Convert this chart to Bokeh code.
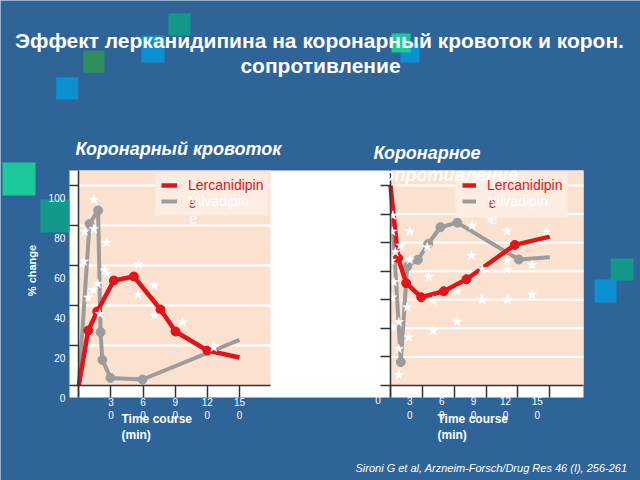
import math
from bokeh.plotting import figure
from bokeh.models import (Range1d, LinearAxis, FixedTicker, BoxAnnotation, Label,
                          Legend, LegendItem)
from bokeh.core.properties import value
from bokeh.embed import file_html
from bokeh.resources import INLINE

# ---------------- data ----------------
TIME_TICKS = [0, 30, 60, 90, 120, 150]
FLOW_TIME_LABELS = ["", "3\n0", "6\n0", "9\n0", "12\n0", "15\n0"]
RES_TIME_LABELS = ["0", "3\n0", "6\n0", "9\n0", "12\n0", "15\n0"]
FLOW_Y_TICKS = [0, 20, 40, 60, 80, 100]
FLOW_Y_LABELS = ["0", "20", "40", "60", "80", "100"]
RES_Y_TICKS = [-70, -60, -50, -40, -30, -20, -10, 0]

# coronary flow (% change)
FLOW_LERC_T = [0, 8.8, 17.2, 32.7, 51.4, 76.3, 90.3, 120, 150]
FLOW_LERC_V = [0, 27.5, 37, 52.5, 54.5, 38, 27, 17.5, 14]
FLOW_NILV_T = [0, 10, 18, 20.3, 22, 29.6, 59.5, 150]
FLOW_NILV_V = [0, 80.8, 87.5, 26.7, 12.8, 3.8, 3, 22.8]
FLOW_STAR_T = [14, 5.6, 14, 25.9, 4.7, 24.3, 25.9, 55.5, 17.7, 13.4, 8.8, 70.4, 55.5, 71, 96.8, 19.6, 126]
FLOW_STAR_V = [92.8, 77, 78.3, 71.3, 62, 57.5, 55.8, 60.5, 50.8, 47.8, 44, 50, 45.3, 35, 31.6, 35.8, 19]

# coronary resistance (% change)
RES_LERC_T = [0, 7.2, 14.8, 28.9, 50.2, 71.6, 117, 150]
RES_LERC_V = [0, -25.4, -34.2, -39.1, -37, -32.8, -20.8, -17.9]
RES_NILV_T = [0, 9.7, 15.7, 25.7, 35.5, 47, 62.8, 120.8, 150]
RES_NILV_V = [0, -61.8, -28.4, -26, -20.4, -14.6, -13, -25.9, -25.1]
RES_STAR_T = [2.2, 1.6, 18.2, 4.7, 9.4, 0.9, 18.2, 34.6, 36.1, 3.1, 76.9, 94.2, 109.9, 146.9, 76.3,
              109.9, 109.9, 133.4, 86.3, 62.8, 40.2, 86.3, 109.9, 133.4, 1.6, 15.7, 7.8, 1.6, 62.8,
              40.2, 17.2, 7.8, 7.8]
RES_STAR_V = [-10.5, -16.1, -16, -23.3, -21, -26.3, -26, -21.6, -31.9, -33.8, -14, -11.3, -16, -16,
              -24.5, -26.3, -29.4, -27.8, -29.2, -37, -40.3, -40, -40, -38.2, -39.1, -42.6, -47.8,
              -49.6, -47.6, -50.8, -53.1, -57.2, -66.3]

SERIES = ["Lercanidipin", "Nilvadipin"]

# ---------------- styles ----------------
FONT = "Liberation Sans"
BLUE = "#2f6498"
PEACH = "#fbe2d0"
LEG_BG = "#fdece2"
RED = "#e2141b"
GRAY = "#9c9c9c"
AXC = "#333333"
TEAL = "#12998a"
LBLUE = "#0b90d2"
GREEN = "#2e8f5d"
BGREEN = "#1cc99a"
W, H = 640, 480


# slide-pixel -> data helpers (left panel = default ranges, right panel = "r" ranges)
def lx(X):
    return (X - 78.3) / 1.071


def ly(Y):
    return (385 - Y) / 2.0


def rx(X):
    return (X - 390) / 1.062


def ry(Y):
    return (185 - Y) / 2.857


p = figure(width=W, height=H, x_range=Range1d(lx(0), lx(W)), y_range=Range1d(ly(H), ly(0)),
           x_axis_location="above", y_axis_location="right",
           toolbar_location=None, output_backend="svg", min_border=0)
p.extra_x_ranges = {"r": Range1d(rx(0), rx(W))}
p.extra_y_ranges = {"r": Range1d(ry(H), ry(0))}
p.background_fill_color = BLUE
p.border_fill_color = BLUE
p.outline_line_color = None
p.grid.visible = False


def txt(x, y, s, size, color="white", style="normal", align="left", baseline="middle",
        angle=0.0, alpha=1.0):
    p.add_layout(Label(x=x, y=y, text=s, text_font=FONT, text_font_size=f"{size}px",
                       text_font_style=style, text_color=color, text_align=align,
                       text_baseline=baseline, angle=angle, text_alpha=alpha))


def box(x0, x1, ytop, ybot, color, level="underlay", rng="default"):
    p.add_layout(BoxAnnotation(left=x0, right=x1, top=ytop, bottom=ybot, fill_color=color,
                               fill_alpha=1.0, line_color=None, level=level,
                               x_range_name=rng, y_range_name=rng))


def tick_axis(ax, ticks, loc, bounds, tick_in):
    ax.ticker = FixedTicker(ticks=ticks)
    ax.major_label_overrides = {t: "" for t in ticks}
    ax.major_label_standoff = 0
    ax.fixed_location = loc
    ax.bounds = bounds
    ax.axis_line_color = AXC
    ax.axis_line_width = 1.5
    ax.major_tick_line_color = AXC
    ax.major_tick_line_width = 1.5
    ax.major_tick_in = tick_in
    ax.major_tick_out = 0
    ax.minor_tick_line_color = None


# ---------- decorative squares of the slide ----------
box(lx(168), lx(190), ly(12.7), ly(35), TEAL)
box(lx(141), lx(164), ly(35), ly(62), LBLUE)
box(lx(82.7), lx(104), ly(50), ly(72.3), GREEN)
box(lx(55.7), lx(77.7), ly(76.7), ly(99), LBLUE)
box(lx(400), lx(419), ly(43), ly(62), LBLUE)
box(lx(391), lx(410), ly(33), ly(52), BGREEN)
box(lx(2), lx(35), ly(162), ly(195), BGREEN)
box(lx(40), lx(69), ly(199), ly(232), TEAL)
box(lx(610), lx(633), ly(258), ly(280), TEAL)
box(lx(594), lx(616), ly(279), ly(302), LBLUE)

# ---------- chart areas ----------
box(lx(69), lx(583), ly(170), ly(397), "white", level="image")
box(0, lx(270), ly(170), 0, PEACH, level="image")
box(0, rx(583), ry(170), RES_Y_TICKS[0], PEACH, level="image", rng="r")

# grid lines (white) at the tick values
p.segment(x0=[0] * (len(FLOW_Y_TICKS) - 1), x1=[lx(270)] * (len(FLOW_Y_TICKS) - 1),
          y0=FLOW_Y_TICKS[1:], y1=FLOW_Y_TICKS[1:], line_color="white", line_width=2)
p.segment(x0=[0] * (len(RES_Y_TICKS) - 1), x1=[rx(583)] * (len(RES_Y_TICKS) - 1),
          y0=RES_Y_TICKS[1:], y1=RES_Y_TICKS[1:], line_color="white", line_width=2,
          x_range_name="r", y_range_name="r")

# legend boxes
box(lx(155), lx(268), ly(173), ly(215), LEG_BG, level="annotation")
box(rx(455), rx(567), ry(172), ry(217), LEG_BG, level="annotation", rng="r")

# ---------- axes (ticks and axis lines) ----------
tick_axis(p.xaxis[0], TIME_TICKS, 0, (0, lx(270)), 12)
tick_axis(p.yaxis[0], FLOW_Y_TICKS, 0, (ly(397), ly(170)), 9)
ax_rx = LinearAxis(x_range_name="r", y_range_name="r")
tick_axis(ax_rx, TIME_TICKS, RES_Y_TICKS[0], (0, rx(583)), 12)
p.add_layout(ax_rx, "above")
ax_ry = LinearAxis(x_range_name="r", y_range_name="r")
tick_axis(ax_ry, RES_Y_TICKS, 0, (ry(397), ry(170)), 10)
p.add_layout(ax_ry, "right")

# tick labels
TF = dict(text_font=value(FONT), text_font_size=value("10px"), text_color="white")
ft = [t for t, s in zip(TIME_TICKS, FLOW_TIME_LABELS) if s]
fl = [s for s in FLOW_TIME_LABELS if s]
p.text(x=ft, y=[0] * len(ft), text=fl, text_align="center", text_baseline="top",
       y_offset=11, text_line_height=1.25, **TF)
p.text(x=[0] * len(FLOW_Y_TICKS), y=FLOW_Y_TICKS, text=FLOW_Y_LABELS, text_align="right",
       text_baseline="middle", x_offset=-13.5, y_offset=12, **TF)
p.text(x=TIME_TICKS, y=[RES_Y_TICKS[0]] * len(TIME_TICKS), text=RES_TIME_LABELS,
       text_align="center", text_baseline="top", x_offset=-12.5, y_offset=11,
       text_line_height=1.25, x_range_name="r", y_range_name="r", **TF)

# ---------- data: coronary flow ----------
g1 = p.line(FLOW_NILV_T, FLOW_NILV_V, line_color=GRAY, line_width=4)
p.scatter(FLOW_NILV_T[1:-1], FLOW_NILV_V[1:-1], size=9, fill_color=GRAY, line_color=GRAY)
r1 = p.line(FLOW_LERC_T, FLOW_LERC_V, line_color=RED, line_width=4.5)
p.scatter(FLOW_LERC_T[1:-1], FLOW_LERC_V[1:-1], size=9, fill_color=RED, line_color=RED)
p.scatter(FLOW_STAR_T, FLOW_STAR_V, marker="star", size=10, fill_color="white",
          line_color="white", line_width=0.5)

# ---------- data: coronary resistance ----------
RR = dict(x_range_name="r", y_range_name="r")
g2 = p.line(RES_NILV_T, RES_NILV_V, line_color=GRAY, line_width=4, **RR)
p.scatter(RES_NILV_T[1:-1], RES_NILV_V[1:-1], size=9, fill_color=GRAY, line_color=GRAY, **RR)
r2 = p.line(RES_LERC_T, RES_LERC_V, line_color=RED, line_width=4.5, **RR)
p.scatter(RES_LERC_T[1:-1], RES_LERC_V[1:-1], size=9, fill_color=RED, line_color=RED, **RR)
p.scatter(RES_STAR_T, RES_STAR_V, marker="star", size=10, fill_color="white",
          line_color="white", line_width=0.5, **RR)


# ---------- legends ----------
def add_legend(renderer, label, color, x_left, row_center_y, gw):
    leg = Legend(items=[LegendItem(label=label, renderers=[renderer])],
                 location=(x_left, H - (row_center_y + 7)),
                 background_fill_alpha=0, border_line_color=None, padding=0, margin=0,
                 spacing=0, glyph_width=gw, glyph_height=14, label_height=14,
                 label_standoff=11, label_text_font=FONT, label_text_font_size="14px",
                 label_text_color=color)
    p.add_layout(leg)


add_legend(r1, SERIES[0], RED, 161, 186, 16)
add_legend(g1, SERIES[1], "white", 161, 202, 16)
add_legend(r2, SERIES[0], RED, 462, 186, 14)
add_legend(g2, SERIES[1], "white", 462, 202, 14)
txt(lx(188), ly(202), "e", 14, color=RED)
txt(lx(189), ly(218), "e", 14, color="white")
txt(lx(488), ly(202), "e", 14, color=RED)
txt(lx(489), ly(218), "e", 14, color="white")

# ---------- texts ----------
txt(lx(319), ly(40), "Эффект лерканидипина на коронарный кровоток и корон.", 21,
    style="bold", align="center")
txt(lx(320), ly(65), "сопротивление", 21, style="bold", align="center")
txt(lx(75), ly(148), "Коронарный кровоток", 18, style="bold italic")
txt(lx(373), ly(152), "Коронарное", 18, style="bold italic")
txt(lx(373), ly(174), "сопротивление", 18, style="bold italic")

txt(lx(31), ly(270), "% change", 11, style="bold", align="center", angle=math.pi / 2)
txt(lx(121), ly(418), "Time course", 12, style="bold")
txt(lx(121), ly(434), "(min)", 12, style="bold")
txt(lx(437), ly(418), "Time course", 12, style="bold")
txt(lx(437), ly(434), "(min)", 12, style="bold")
txt(lx(627), ly(467), "Sironi G et al, Arzneim-Forsch/Drug Res 46 (I), 256-261", 11,
    style="italic", align="right")

open("out.html", "w").write(file_html(p, INLINE))
